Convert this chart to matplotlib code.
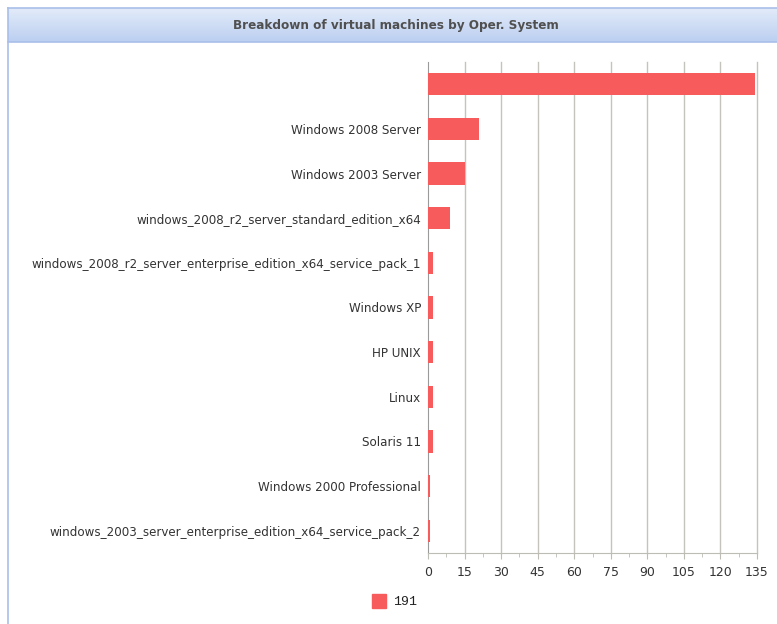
import matplotlib
matplotlib.use("Agg")
import matplotlib.pyplot as plt
import numpy as np
from matplotlib.patches import Rectangle
from matplotlib.lines import Line2D

title = "Breakdown of virtual machines by Oper. System"
categories = [
    "",
    "Windows 2008 Server",
    "Windows 2003 Server",
    "windows_2008_r2_server_standard_edition_x64",
    "windows_2008_r2_server_enterprise_edition_x64_service_pack_1",
    "Windows XP",
    "HP UNIX",
    "Linux",
    "Solaris 11",
    "Windows 2000 Professional",
    "windows_2003_server_enterprise_edition_x64_service_pack_2",
]
values = [134, 21, 15, 9, 2, 2, 2, 2, 2, 1, 1]
series_name = "191"
x_ticks = [0, 15, 30, 45, 60, 75, 90, 105, 120, 135]

W, H = 777, 624
fig = plt.figure(figsize=(W / 100, H / 100), dpi=100)
fig.patch.set_facecolor("white")

# Header band with gradient
hx0, hy_top, hy_bot = 8, 8, 42
hax = fig.add_axes([hx0 / W, 1 - hy_bot / H, (W - hx0) / W, (hy_bot - hy_top) / H])
grad = np.linspace(0, 1, 64).reshape(-1, 1)
c_top = np.array([0xe2, 0xeb, 0xf9]) / 255
c_bot = np.array([0xbc, 0xcf, 0xf1]) / 255
img = c_top[None, None, :] * (1 - grad[:, :, None]) + c_bot[None, None, :] * grad[:, :, None]
hax.imshow(img, aspect="auto", extent=[0, 1, 0, 1])
hax.set_xlim(0, 1)
hax.set_ylim(0, 1)
hax.axis("off")
fig.text((233 + 558) / 2 / W, 1 - 25 / H, title, ha="center", va="center",
         fontsize=9.6, fontweight="bold", fontstretch="condensed",
         color="#505050", family="DejaVu Sans")

border_c = "#a9bfe9"
fig.add_artist(Line2D([hx0 / W, 1], [1 - hy_top / H] * 2, color=border_c, lw=1.2))
fig.add_artist(Line2D([hx0 / W, 1], [1 - hy_bot / H] * 2, color=border_c, lw=1.2))
fig.add_artist(Line2D([hx0 / W] * 2, [0, 1 - hy_top / H], color=border_c, lw=1.2))

# Main axes
left, right, top, bottom = 428, 757, 62, 553
ax = fig.add_axes([left / W, 1 - bottom / H, (right - left) / W, (bottom - top) / H])
y = np.arange(len(categories))
bar_color = "#f75b5b"
ax.barh(y, values, height=0.5, color=bar_color, edgecolor="none", zorder=3)
ax.set_ylim(len(categories) - 0.5, -0.5)
ax.set_xlim(0, 135)
ax.set_xticks(x_ticks)
ax.set_xticks(np.arange(7.5, 135, 15), minor=True)
ax.set_xticklabels([str(t) for t in x_ticks], fontsize=9, color="#333333")
ax.set_yticks(y)
ax.set_yticklabels(categories, fontsize=8.6, color="#333333")
ax.tick_params(axis="y", length=0, pad=5)
ax.tick_params(axis="x", which="major", length=4, color="#bdbdb5", pad=5)
ax.tick_params(axis="x", which="minor", length=3, color="#bdbdb5")
for t in x_ticks[1:]:
    ax.axvline(t, color="#c4c4bc", lw=1, zorder=0, clip_on=False)
for s in ["top", "right"]:
    ax.spines[s].set_visible(False)
ax.spines["left"].set_color("#9a9a9a")
ax.spines["bottom"].set_color("#bdbdb5")

# Legend
fig.add_artist(Rectangle((372 / W, 1 - 608 / H), 14 / W, 14 / H,
                         transform=fig.transFigure, color=bar_color))
fig.text(393 / W, 1 - 602 / H, series_name, ha="left", va="center",
         fontsize=9.5, family="Liberation Mono", color="#222222")

fig.savefig("out.png", dpi=100)
